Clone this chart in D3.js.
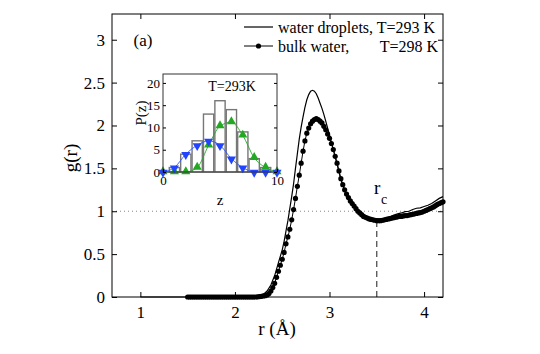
<!DOCTYPE html>
<html>
<head>
<meta charset="utf-8">
<script src="https://cdn.jsdelivr.net/npm/d3@7"></script>
<style>
  body { margin: 0; background: #fff; }
  svg, svg text { font-family: "Liberation Serif", "Tinos", "Times New Roman", "DejaVu Serif", serif; }
</style>
</head>
<body>
<svg width="540" height="354"></svg>
<script>
// main panel: g(r)
var bulkWater = [
  [1.50,0],[1.52,0],[1.54,0],[1.56,0],[1.58,0],[1.60,0],[1.62,0],[1.64,0],[1.66,0],[1.68,0],
  [1.70,0],[1.72,0],[1.74,0],[1.76,0],[1.78,0],[1.80,0],[1.82,0],[1.84,0],[1.86,0],[1.88,0],
  [1.90,0],[1.92,0],[1.94,0],[1.96,0],[1.98,0],[2.00,0],[2.02,0],[2.04,0],[2.06,0],[2.08,0],
  [2.10,0],[2.12,0],[2.14,0],[2.16,0],[2.18,0],[2.20,0],[2.22,0],[2.24,0.002],[2.26,0.005],[2.28,0.008],
  [2.30,0.012],[2.32,0.016],[2.34,0.024],[2.36,0.04],[2.38,0.07],[2.40,0.11],[2.42,0.16],[2.44,0.23],[2.46,0.30],[2.48,0.37],
  [2.50,0.44],[2.52,0.52],[2.54,0.62],[2.56,0.70],[2.58,0.79],[2.60,0.90],[2.62,1.02],[2.64,1.15],[2.66,1.29],[2.68,1.42],
  [2.70,1.56],[2.72,1.70],[2.74,1.82],[2.76,1.91],[2.78,1.97],[2.80,2.02],[2.82,2.05],[2.84,2.07],[2.86,2.08],[2.88,2.07],
  [2.90,2.05],[2.92,2.03],[2.94,1.99],[2.96,1.95],[2.98,1.90],[3.00,1.85],[3.02,1.79],[3.04,1.72],[3.06,1.64],[3.08,1.56],
  [3.10,1.47],[3.12,1.38],[3.14,1.31],[3.16,1.25],[3.18,1.20],[3.20,1.16],[3.22,1.12],[3.24,1.09],[3.26,1.06],[3.28,1.03],
  [3.30,1.00],[3.32,0.98],[3.34,0.96],[3.36,0.94],[3.38,0.93],[3.40,0.92],[3.42,0.91],[3.44,0.905],[3.46,0.90],[3.48,0.895],
  [3.50,0.89],[3.52,0.89],[3.54,0.89],[3.56,0.895],[3.58,0.90],[3.60,0.905],[3.62,0.91],[3.64,0.915],[3.66,0.92],[3.68,0.925],
  [3.70,0.93],[3.72,0.935],[3.74,0.94],[3.76,0.94],[3.78,0.945],[3.80,0.95],[3.82,0.95],[3.84,0.955],[3.86,0.96],[3.88,0.965],
  [3.90,0.97],[3.92,0.975],[3.94,0.98],[3.96,0.985],[3.98,0.99],[4.00,1.00],[4.02,1.01],[4.04,1.02],[4.06,1.03],[4.08,1.04],
  [4.10,1.05],[4.12,1.065],[4.14,1.08],[4.16,1.09],[4.18,1.10],[4.20,1.11]
];

var droplets = [
  [1.00,0],[2.20,0],[2.26,0.01],[2.30,0.03],[2.34,0.07],[2.38,0.14],[2.42,0.25],[2.46,0.40],
  [2.50,0.55],[2.52,0.65],[2.54,0.77],[2.56,0.89],[2.58,1.03],[2.60,1.17],[2.62,1.32],[2.64,1.50],
  [2.66,1.67],[2.68,1.84],[2.70,1.98],[2.72,2.10],[2.74,2.21],[2.76,2.30],[2.78,2.36],[2.80,2.40],
  [2.82,2.41],[2.84,2.40],[2.86,2.37],[2.88,2.32],[2.90,2.26],[2.92,2.20],[2.94,2.13],[2.96,2.05],
  [2.98,1.97],[3.00,1.89],[3.02,1.80],[3.04,1.72],[3.06,1.63],[3.08,1.55],[3.10,1.46],[3.12,1.37],
  [3.16,1.24],[3.20,1.15],[3.24,1.08],[3.28,1.02],[3.32,0.97],[3.36,0.93],[3.40,0.91],[3.44,0.90],
  [3.48,0.89],[3.52,0.89],[3.56,0.895],[3.60,0.91],[3.64,0.935],[3.68,0.955],[3.72,0.97],[3.76,0.98],
  [3.80,0.995],[3.84,1.00],[3.88,1.02],[3.92,1.035],[3.96,1.04],[4.00,1.055],[4.04,1.07],[4.08,1.09],
  [4.12,1.12],[4.16,1.15],[4.20,1.17]
];

var xTicks = [1, 2, 3, 4];
var yTicks = [0, 0.5, 1, 1.5, 2, 2.5, 3];
var rc = 3.5, gAtRc = 0.89;

// inset: P(z)
var zBins = [1, 2, 3, 4, 5, 6, 7, 8, 9];
var zHist = [1, 4, 7, 13, 16, 14, 9, 3, 1];
var zPts = [0, 1, 2, 3, 4, 5, 6, 7, 8, 9, 10];
var pBlue = [0, 1, 4, 6, 7, 6, 3, 1, 0, 0, 0];
var pGreen = [0, 0, 0, 1, 6, 10.3, 11.2, 8.2, 3.2, 1, 0];
var insetYTicks = [0, 5, 10, 15, 20];
var insetXTicks = [0, 10];

var FONT = '"Liberation Serif", "Tinos", "Times New Roman", "DejaVu Serif", serif';
var svg = d3.select('svg').attr("font-family", FONT);

var x = d3.scaleLinear().domain([0.7, 4.2]).range([112, 443]);
var y = d3.scaleLinear().domain([0, 3.3]).range([297, 14]);

// dotted line at g=1
svg.append("line")
    .attr("x1", x(0.7)).attr("x2", x(4.2))
    .attr("y1", y(1)).attr("y2", y(1))
    .attr("stroke", "#888").attr("stroke-width", 1)
    .attr("stroke-dasharray", "1,3");

// rc dashed line
svg.append("line")
    .attr("x1", x(rc)).attr("x2", x(rc))
    .attr("y1", y(0)).attr("y2", y(gAtRc))
    .attr("stroke", "#000").attr("stroke-width", 0.9)
    .attr("stroke-dasharray", "6,4");

var line = d3.line().x(function(d) { return x(d[0]); }).y(function(d) { return y(d[1]); });

svg.append("path")
    .attr("d", line(droplets))
    .attr("fill", "none").attr("stroke", "#000").attr("stroke-width", 1.2);

svg.append("path")
    .attr("d", line(bulkWater))
    .attr("fill", "none").attr("stroke", "#000").attr("stroke-width", 1);

svg.selectAll(".dot").data(bulkWater).enter().append("circle")
    .attr("class", "dot")
    .attr("cx", function(d) { return x(d[0]); })
    .attr("cy", function(d) { return y(d[1]); })
    .attr("r", 2.6)
    .attr("fill", "#000");

// frame and ticks
svg.append("rect")
    .attr("x", 112).attr("y", 14).attr("width", 331).attr("height", 283)
    .attr("fill", "none").attr("stroke", "#000").attr("stroke-width", 1);

function styleTicks(g, size) {
    g.attr("font-family", FONT);
    g.select(".domain").remove();
    g.selectAll("text").attr("font-size", size).attr("fill", "#000");
}

svg.append("g").attr("transform", "translate(0,297)")
    .call(d3.axisBottom(x).tickValues(xTicks).tickSize(-5).tickPadding(9).tickFormat(d3.format("d")))
    .call(styleTicks, 17);
svg.append("g").attr("transform", "translate(0,14)")
    .call(d3.axisTop(x).tickValues(xTicks).tickSize(-5).tickFormat(""))
    .call(styleTicks, 17);
svg.append("g").attr("transform", "translate(112,0)")
    .call(d3.axisLeft(y).tickValues(yTicks).tickSize(-5).tickPadding(7).tickFormat(d3.format("")))
    .call(styleTicks, 17);
svg.append("g").attr("transform", "translate(443,0)")
    .call(d3.axisRight(y).tickValues(yTicks).tickSize(-5).tickFormat(""))
    .call(styleTicks, 17);

svg.append("text").attr("x", 277).attr("y", 335).attr("text-anchor", "middle")
    .attr("font-size", 19).text("r (Å)");
svg.append("text").attr("transform", "translate(77,158) rotate(-90)").attr("text-anchor", "middle")
    .attr("font-size", 19).text("g(r)");
svg.append("text").attr("x", 143).attr("y", 46).attr("text-anchor", "middle")
    .attr("font-size", 17).text("(a)");
svg.append("text").attr("x", 374).attr("y", 194).attr("font-size", 19).text("r");
svg.append("text").attr("x", 381).attr("y", 204).attr("font-size", 14).text("c");

// legend
svg.append("line").attr("x1", 244).attr("x2", 273).attr("y1", 27).attr("y2", 27)
    .attr("stroke", "#000").attr("stroke-width", 1.2);
svg.append("text").attr("x", 278).attr("y", 32.5).attr("font-size", 16).text("water droplets, T=293 K");
svg.append("line").attr("x1", 244).attr("x2", 273).attr("y1", 46).attr("y2", 46)
    .attr("stroke", "#000").attr("stroke-width", 1);
svg.append("circle").attr("cx", 258.5).attr("cy", 46).attr("r", 2.6).attr("fill", "#000");
svg.append("text").attr("x", 278).attr("y", 51.5).attr("font-size", 16).text("bulk water,");
svg.append("text").attr("x", 438).attr("y", 51.5).attr("text-anchor", "end").attr("font-size", 16).text("T=298 K");

// inset
var ix = d3.scaleLinear().domain([0, 10]).range([163, 277]);
var iy = d3.scaleLinear().domain([0, 22]).range([172, 74]);
var inset = svg.append("g");

inset.append("rect").attr("x", 163).attr("y", 74).attr("width", 114).attr("height", 98)
    .attr("fill", "#fff");

inset.selectAll(".bar").data(zBins).enter().append("rect")
    .attr("class", "bar")
    .attr("x", function(d) { return ix(d - 0.45); })
    .attr("width", function(d) { return ix(d + 0.45) - ix(d - 0.45); })
    .attr("y", function(d, i) { return iy(zHist[i]); })
    .attr("height", function(d, i) { return iy(0) - iy(zHist[i]); })
    .attr("fill", "#fff").attr("stroke", "#777").attr("stroke-width", 1.4);

var iline = d3.line().curve(d3.curveMonotoneX)
    .x(function(d, i) { return ix(zPts[i]); }).y(function(d) { return iy(d); });

inset.append("path").attr("d", iline(pGreen))
    .attr("fill", "none").attr("stroke", "#2aa52a").attr("stroke-width", 0.9);
inset.selectAll(".gm").data(pGreen).enter().append("path")
    .attr("class", "gm")
    .attr("d", d3.symbol(d3.symbolTriangle, 36))
    .attr("transform", function(d, i) { return "translate(" + ix(zPts[i]) + "," + (iy(d) - 0.5) + ")"; })
    .attr("fill", "#22a822");

inset.append("path").attr("d", iline(pBlue))
    .attr("fill", "none").attr("stroke", "#2f55ff").attr("stroke-width", 0.9);
inset.selectAll(".bm").data(pBlue).enter().append("path")
    .attr("class", "bm")
    .attr("d", d3.symbol(d3.symbolTriangle, 36))
    .attr("transform", function(d, i) { return "translate(" + ix(zPts[i]) + "," + (iy(d) + 0.5) + ") rotate(180)"; })
    .attr("fill", "#2244ff");

inset.append("rect").attr("x", 163).attr("y", 74).attr("width", 114).attr("height", 98)
    .attr("fill", "none").attr("stroke", "#333").attr("stroke-width", 1);

inset.append("g").attr("transform", "translate(0,172)")
    .call(d3.axisBottom(ix).tickValues(insetXTicks).tickSize(-3).tickPadding(4).tickFormat(d3.format("d")))
    .call(styleTicks, 13);
inset.append("g").attr("transform", "translate(163,0)")
    .call(d3.axisLeft(iy).tickValues(insetYTicks).tickSize(-3).tickPadding(3).tickFormat(d3.format("d")))
    .call(styleTicks, 13);
inset.append("g").attr("transform", "translate(277,0)")
    .call(d3.axisRight(iy).tickValues(insetYTicks).tickSize(-3).tickFormat(""))
    .call(styleTicks, 13);

inset.append("text").attr("x", 220).attr("y", 205).attr("text-anchor", "middle")
    .attr("font-size", 15).text("z");
inset.append("text").attr("transform", "translate(146,113) rotate(-90)").attr("text-anchor", "middle")
    .attr("font-size", 15).text("P(z)");
inset.append("text").attr("x", 232).attr("y", 91).attr("text-anchor", "middle")
    .attr("font-size", 14).text("T=293K");
</script>
</body>
</html>
